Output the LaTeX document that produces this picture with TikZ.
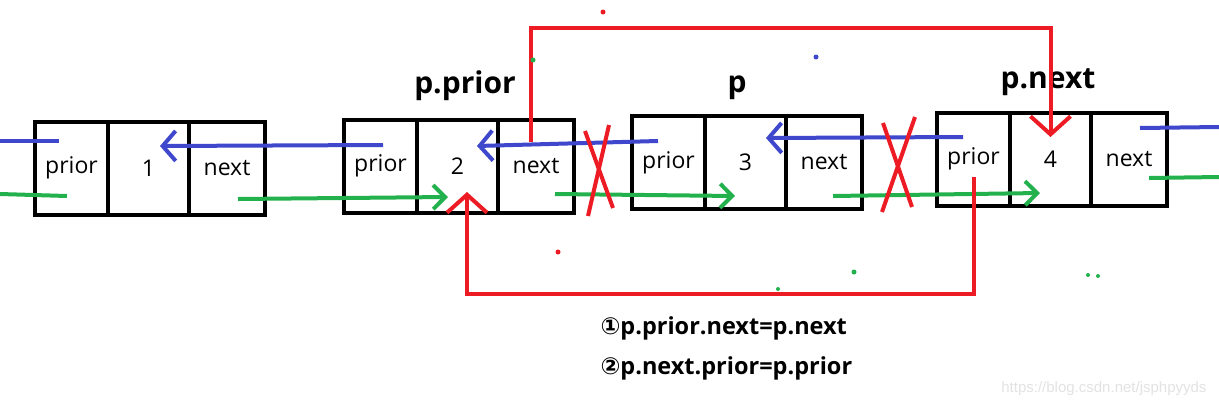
\documentclass[tikz,border=0pt]{standalone}
\usepackage{fontspec}
\setmainfont{Open Sans}
\newfontfamily\circfont{DejaVu Sans}
\newfontfamily\markfont{Liberation Sans}
\usetikzlibrary{arrows.meta,positioning}

\definecolor{paintblue}{RGB}{63,72,204}
\definecolor{paintgreen}{RGB}{34,177,76}
\definecolor{paintred}{RGB}{237,28,36}

\tikzset{
  cell/.style={draw, line width=4pt, minimum height=93pt, outer sep=0pt,
    inner sep=0pt, font=\fontsize{23}{23}\selectfont},
  title/.style={anchor=base, font=\bfseries\fontsize{30}{30}\selectfont},
  formula/.style={anchor=base west, font=\bfseries\fontsize{23.5}{23.5}\selectfont},
  prevlink/.style={paintblue, line width=4pt},
  nextlink/.style={paintgreen, line width=4pt},
  prevarrow/.style={prevlink, -{Straight Barb[length=13pt,width=30pt]}},
  nextarrow/.style={nextlink, -{Straight Barb[length=12pt,width=24pt]}},
  fixarrow/.style={paintred, line width=4pt, -{Straight Barb[length=18pt,width=40pt]}},
  cross/.style={paintred, line width=4pt},
}

\begin{document}
\begin{tikzpicture}[x=1pt, y=-1pt]
  \fill[white] (0,0) rectangle (1219,405);
  \useasboundingbox (0,0) rectangle (1219,405);

  % the four list nodes: prior | data | next
  \foreach \n/\x/\y/\v in {A/71.5/168/1, B/380.5/166/2, C/668.5/162.5/3, D/973.5/159/4} {
    \node[cell, minimum width=73pt] (\n-prior) at (\x,\y) {prior};
    \node[cell, minimum width=81pt, right=0pt of \n-prior] (\n-data) {\v};
    \node[cell, minimum width=76pt, right=0pt of \n-data] (\n-next) {next};
  }

  % pointer names
  \node[title] (tprior) at (465,93) {p.prior};
  \node[title] (tp) at (737,92) {p};
  \node[title] (tnext) at (1048,88) {p.next};

  % prior links (blue)
  \coordinate (bluein) at (0,141);
  \coordinate (blueout) at (1219,127);
  \draw[prevlink] (bluein) -- ([xshift=-12.5pt,yshift=27pt]A-prior.center);
  \draw[prevarrow] ([xshift=2.5pt,yshift=21pt]B-prior.center) -- ([xshift=11.5pt,yshift=22pt]A-data.center);
  \draw[prevarrow] ([xshift=-10.5pt,yshift=21.5pt]C-prior.center) -- ([xshift=19.5pt,yshift=20pt]B-data.center);
  \draw[prevarrow] ([xshift=-10.5pt,yshift=22pt]D-prior.center) -- ([xshift=20.5pt,yshift=24.5pt]C-data.center);
  \draw[prevlink] ([xshift=11pt,yshift=31pt]D-next.center) -- (blueout);

  % next links (green)
  \coordinate (greenin) at (0,194);
  \coordinate (greenout) at (1219,177);
  \draw[nextlink] (greenin) -- ([xshift=-4.5pt,yshift=-28pt]A-prior.center);
  \draw[nextarrow] ([xshift=11pt,yshift=-31pt]A-next.center) -- ([xshift=-9.5pt,yshift=-31pt]B-data.center);
  \draw[nextarrow] ([xshift=19pt,yshift=-28pt]B-next.center) -- ([xshift=-10.5pt,yshift=-33.5pt]C-data.center);
  \draw[nextarrow] ([xshift=9pt,yshift=-33.5pt]C-next.center) -- ([xshift=-10.5pt,yshift=-34pt]D-data.center);
  \draw[nextlink] ([xshift=20pt,yshift=-19pt]D-next.center) -- (greenout);

  % links that get cut
  \draw[cross] (585,131) -- (613,208);
  \draw[cross] (609,125) -- (588,216);
  \draw[cross] (883,123) -- (912,207);
  \draw[cross] (915,117) -- (882,212);

  % new links (red)
  \coordinate (over) at (790,28);
  \coordinate (under) at (720,294);
  \draw[fixarrow] ([xshift=-5pt,yshift=24pt]B-next.center) |- (over) -| ([yshift=22pt]D-data.center);
  \draw[fixarrow] ([yshift=-18pt]D-prior.center) |- (under) -| ([xshift=9.5pt,yshift=-26pt]B-data.center);

  % stray dots
  \fill[paintred] (603,12) circle (2.5pt);
  \fill[paintred] (558,252) circle (2.5pt);
  \fill[paintgreen] (533,60) circle (2.5pt);
  \fill[paintgreen] (854,272) circle (2.5pt);
  \fill[paintgreen] (1088,275) circle (2pt);
  \fill[paintgreen] (1098,276) circle (2pt);
  \fill[paintgreen] (778,289) circle (2pt);
  \fill[paintblue] (816,57) circle (2.5pt);

  % the two steps
  \node[formula] (rule1) at (597,334) {{\circfont ①}p.prior.next=p.next};
  \node[formula] (rule2) at (597,374) {{\circfont ②}p.next.prior=p.prior};

  \node[anchor=base east, text=gray!22, font=\markfont\fontsize{15}{15}\selectfont] (mark) at (1210,392) {https://blog.csdn.net/jsphpyyds};
\end{tikzpicture}
\end{document}
